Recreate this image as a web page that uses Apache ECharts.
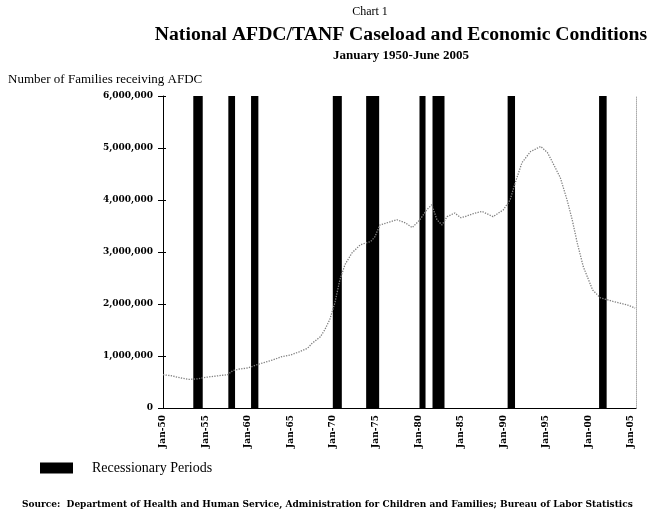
<!DOCTYPE html>
<html>
<head>
<meta charset="utf-8">
<script src="https://cdn.jsdelivr.net/npm/echarts@6/dist/echarts.min.js"></script>
<style>html,body{margin:0;padding:0;background:#fff}#c{width:650px;height:512px}</style>
</head>
<body>
<div id="c"></div>
<script>
// Caseload: [year (decimal), families]
var caseYears = [1950.0,1951.0,1952.0,1953.0,1954.0,1955.0,1956.0,1957.0,1957.6,1958.2,1959.0,1960.0,1961.0,1962.0,1963.0,1964.0,1965.0,1966.0,1967.0,1967.5,1968.5,1969.0,1969.6,1970.2,1970.8,1971.4,1972.2,1973.2,1974.4,1974.9,1975.5,1976.7,1977.5,1978.5,1979.3,1980.2,1981.0,1981.6,1982.2,1982.8,1983.4,1984.3,1985.0,1985.5,1986.5,1987.5,1988.8,1990.0,1990.8,1991.4,1992.2,1993.2,1994.4,1995.2,1995.8,1996.7,1997.5,1998.1,1998.7,1999.4,2000.5,2001.4,2002.9,2004.6,2005.5];
var caseValues = [640000,620000,580000,550000,560000,590000,610000,630000,640000,720000,750000,770000,830000,880000,930000,990000,1020000,1080000,1150000,1240000,1370000,1500000,1700000,2020000,2470000,2760000,2980000,3140000,3200000,3290000,3520000,3580000,3620000,3560000,3470000,3620000,3810000,3910000,3620000,3520000,3680000,3750000,3660000,3680000,3740000,3780000,3680000,3810000,4000000,4330000,4720000,4930000,5030000,4910000,4720000,4430000,4000000,3620000,3170000,2720000,2270000,2120000,2050000,1980000,1920000];
// Recessionary periods: start / end (decimal years)
var recStart = [1953.56,1957.68,1960.35,1969.96,1973.88,1980.15,1981.68,1990.51,2001.26];
var recEnd   = [1954.67,1958.47,1961.21,1971.02,1975.41,1980.86,1983.09,1991.38,2002.15];
var yTicks = [0,1000000,2000000,3000000,4000000,5000000,6000000];

var lineData = caseYears.map(function(y,i){return [y, caseValues[i]];});
var recData = recStart.map(function(s,i){return [s, recEnd[i]];});
var serif = '"Liberation Serif", "DejaVu Serif", serif';
var wide = '"DejaVu Serif", serif';

var chart = echarts.init(document.getElementById('c'));
chart.setOption({
  animation:false,
  backgroundColor:'#fff',
  grid:{left:163,right:14,top:96,bottom:104,containLabel:false},
  xAxis:{type:'value',min:1950,max:2005.6,interval:5,
    axisLine:{lineStyle:{color:'#000',width:1}},
    axisTick:{show:false},
    splitLine:{show:false},
    axisLabel:{rotate:90,margin:7,fontFamily:wide,fontWeight:'bold',fontSize:9,color:'#000',
      formatter:function(v){ if (Math.abs(v%5)>1e-6) return ''; var s=String(Math.round(v)%100); if(s.length<2)s='0'+s; return 'Jan-'+s;}}
  },
  yAxis:[{type:'value',min:0,max:6000000,interval:1000000,
    axisLine:{show:true,lineStyle:{color:'#000',width:1}},
    axisTick:{show:true,length:5,lineStyle:{color:'#000'}},
    splitLine:{show:false},
    axisLabel:{margin:10,fontFamily:wide,fontWeight:'bold',fontSize:9,color:'#000',
      formatter:function(v){return v.toLocaleString('en-US');}}
  },{type:'value',min:0,max:6000000,interval:1000000,position:'right',
    axisLine:{show:true,lineStyle:{color:'#aaa',width:1,type:'dotted'}},
    axisTick:{show:false},axisLabel:{show:false},splitLine:{show:false}},
  {type:'value',min:0,max:6000000,interval:1000000,position:'left',
    axisLine:{show:false},
    axisTick:{show:true,inside:true,length:3,lineStyle:{color:'#000'}},axisLabel:{show:false},splitLine:{show:false}}],
  legend:{left:35,top:456,data:['Recessionary Periods'],icon:'rect',itemWidth:33,itemHeight:11,
    textStyle:{fontFamily:serif,fontSize:14,color:'#000',padding:[0,0,0,14]}},
  graphic:[
    {type:'text',x:370,y:12,style:{text:'Chart 1',font:'12px '+serif,fill:'#000',align:'center',verticalAlign:'middle',textAlign:'center',textVerticalAlign:'middle'}},
    {type:'text',x:401,y:35,style:{text:'National AFDC/TANF Caseload and Economic Conditions',font:'bold 19.7px '+serif,fill:'#000',align:'center',verticalAlign:'middle',textAlign:'center',textVerticalAlign:'middle'}},
    {type:'text',x:401,y:56,style:{text:'January 1950-June 2005',font:'bold 13px '+serif,fill:'#000',align:'center',verticalAlign:'middle',textAlign:'center',textVerticalAlign:'middle'}},
    {type:'text',x:8,y:80,style:{text:'Number of Families receiving AFDC',font:'13px '+serif,fill:'#000',align:'left',verticalAlign:'middle',textAlign:'left',textVerticalAlign:'middle'}},
    {type:'text',x:22,y:505,style:{text:'Source:  Department of Health and Human Service, Administration for Children and Families; Bureau of Labor Statistics',font:'bold 9px '+wide,fill:'#000',align:'left',verticalAlign:'middle',textAlign:'left',textVerticalAlign:'middle'}}
  ],
  series:[
    {name:'Recessionary Periods',type:'custom',z:1,itemStyle:{color:'#000'},
      encode:{x:[0,1]},data:recData,
      renderItem:function(params,api){
        var p0=api.coord([api.value(0),6000000]);
        var p1=api.coord([api.value(1),0]);
        return {type:'rect',shape:{x:p0[0],y:p0[1],width:p1[0]-p0[0],height:p1[1]-p0[1]},style:{fill:'#000'}};
      }},
    {name:'Caseload',type:'line',z:3,data:lineData,showSymbol:false,smooth:false,
      lineStyle:{color:'#808080',width:1.3,type:'dotted'}}
  ]
});
</script>
</body>
</html>
